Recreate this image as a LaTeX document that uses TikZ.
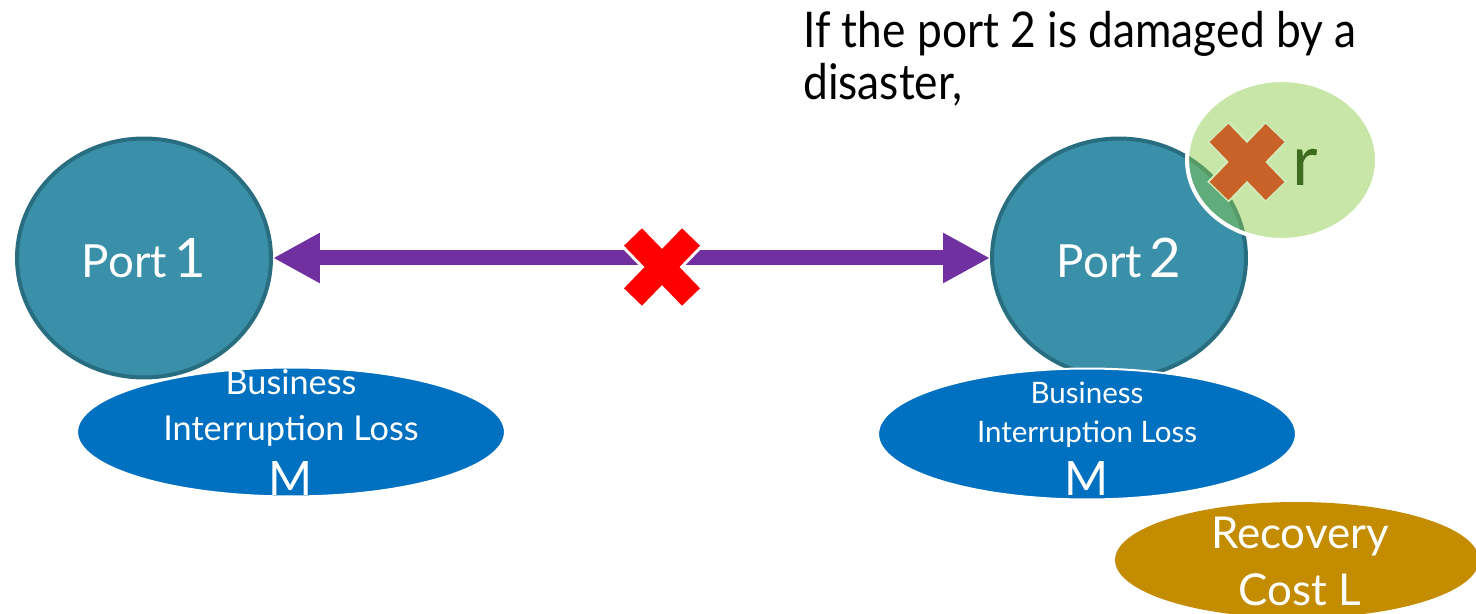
\documentclass[tikz,border=0pt]{standalone}
\usepackage{fontspec}
\setmainfont{Lato}
\newfontfamily\headfont{Lato}[FakeStretch=0.9]
\usetikzlibrary{shapes.geometric,arrows.meta,calc}

\definecolor{portfill}{RGB}{58,144,168}
\definecolor{portline}{RGB}{40,110,128}
\definecolor{lossblue}{RGB}{0,112,192}
\definecolor{linkpurple}{RGB}{112,48,160}
\definecolor{costgold}{RGB}{196,140,0}
\definecolor{riskgreen}{RGB}{140,203,74}
\definecolor{riskline}{RGB}{210,235,185}
\definecolor{crossorange}{RGB}{200,98,40}
\definecolor{rtext}{RGB}{62,107,30}

\tikzset{
  port/.style={ellipse, fill=portfill, draw=portline, line width=0.08cm,
    minimum width=5.08cm, minimum height=4.78cm, text=white, inner sep=0pt},
  loss/.style={ellipse, fill=lossblue, draw=white, line width=0.04cm, inner sep=0pt},
  wtxt/.style={text=white, inner sep=0pt, anchor=base},
  link/.style={draw=linkpurple, line width=0.3cm,
    {Triangle[length=0.94cm,width=0.94cm]}-{Triangle[length=0.94cm,width=0.94cm]}},
}

\newcommand\porttext[1]{{\fontsize{26}{30}\selectfont Port\,}{\fontsize{31}{36}\selectfont #1}}

\begin{document}
\begin{tikzpicture}[x=0.02cm,y=-0.02cm]
\useasboundingbox (0,0) rectangle (1476,614);
\clip (0,0) rectangle (1476,614);

% the two ports
\node[port] (p1) at (144,258) {\porttext{1}};
\node[port] (p2) at (1119,258) {\porttext{2}};

% the sea link between them, cut by a red cross
\draw[link] (p1.east) -- (p2.west);
\coordinate (cut) at (662,267);
\draw[white, line width=0.62cm] ($(cut)+(-31,-32)$) -- ($(cut)+(31,32)$);
\draw[white, line width=0.62cm] ($(cut)+(-31,32)$) -- ($(cut)+(31,-32)$);
\draw[red, line width=0.5cm] ($(cut)+(-29,-30)$) -- ($(cut)+(29,30)$);
\draw[red, line width=0.5cm] ($(cut)+(-29,30)$) -- ($(cut)+(29,-30)$);

% business interruption losses
\node[loss, minimum width=8.56cm, minimum height=2.58cm] (bil1) at (291,432) {};
\node[wtxt, font=\fontsize{19.5}{22}\selectfont] (b1a) at (291,395) {Business};
\node[wtxt, font=\fontsize{19.5}{22}\selectfont] (b1b) at (291,440) {Interruption Loss};
\node[wtxt, font=\fontsize{27}{30}\selectfont] (b1c) at (291,495) {M};

\node[loss, minimum width=8.36cm, minimum height=2.62cm] (bil2) at (1087,434) {};
\node[wtxt, font=\fontsize{16.8}{20}\selectfont] (b2a) at (1087,403) {Business};
\node[wtxt, font=\fontsize{16.8}{20}\selectfont] (b2b) at (1087,442) {Interruption Loss};
\node[wtxt, font=\fontsize{27}{30}\selectfont] (b2c) at (1087,495) {M};

% disaster risk at port 2
\node[ellipse, fill=riskgreen, fill opacity=0.48, draw=white, draw opacity=1,
  line width=0.08cm, minimum width=3.8cm, minimum height=3.2cm] (risk) at (1282,160) {};
\coordinate (hit) at (1247,162);
\draw[riskline, line width=0.6cm] ($(hit)+(-29,-30)$) -- ($(hit)+(29,30)$);
\draw[riskline, line width=0.6cm] ($(hit)+(-29,30)$) -- ($(hit)+(29,-30)$);
\draw[crossorange, line width=0.52cm] ($(hit)+(-28,-29)$) -- ($(hit)+(28,29)$);
\draw[crossorange, line width=0.52cm] ($(hit)+(-28,29)$) -- ($(hit)+(28,-29)$);
\node[text=rtext, inner sep=0pt, anchor=base, font=\fontsize{40}{44}\selectfont] (r) at (1305,186) {r};

% recovery cost
\node[ellipse, fill=costgold, inner sep=0pt, minimum width=7.28cm, minimum height=2.32cm] (rec) at (1297,560) {};
\node[wtxt, font=\fontsize{25}{28}\selectfont] (rc1) at (1300,548) {Recovery};
\node[wtxt, font=\fontsize{25}{28}\selectfont] (rc2) at (1300,605) {Cost L};

% heading
\node[inner sep=0pt, anchor=base west, font=\headfont\fontsize{28}{30}\selectfont] (h1) at (803,48) {If the port 2 is damaged by a};
\node[inner sep=0pt, anchor=base west, font=\headfont\fontsize{28}{30}\selectfont] (h2) at (803,100) {disaster,};
\end{tikzpicture}
\end{document}
